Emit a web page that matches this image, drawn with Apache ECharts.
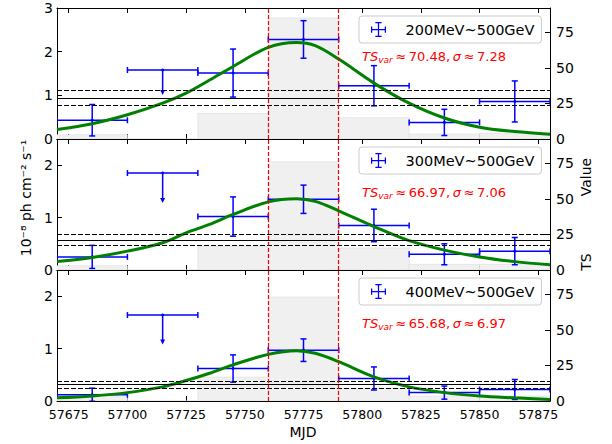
<!DOCTYPE html>
<html>
<head>
<meta charset="utf-8">
<script src="https://cdn.jsdelivr.net/npm/echarts@6/dist/echarts.min.js"></script>
<style>
  html, body { margin: 0; padding: 0; background: #fff; }
  #chart { width: 612px; height: 444px; }
</style>
</head>
<body>
<div id="chart"></div>
<script>
// light curve bins (MJD centre, half width), upper limit flag
const binMjd = [57685, 57715, 57745, 57775, 57805, 57835, 57865];
const binHalf = [15, 15, 15, 15, 15, 15, 15];
const upperLimit = [0, 1, 0, 0, 0, 0, 0];

// flux (1e-8 ph cm-2 s-1) and errors per band
const flux200 = [0.43, 1.58, 1.51, 2.28, 1.22, 0.38, 0.86];
const err200  = [0.36, 0.57, 0.55, 0.43, 0.46, 0.30, 0.47];
const flux300 = [0.25, 1.85, 1.02, 1.35, 0.85, 0.30, 0.36];
const err300  = [0.22, 0.57, 0.375, 0.27, 0.31, 0.20, 0.26];
const flux400 = [0.12, 1.64, 0.62, 0.97, 0.43, 0.16, 0.22];
const err400  = [0.125, 0.56, 0.26, 0.215, 0.22, 0.125, 0.19];

// TS per bin (grey bars, right axis)
const ts200 = [3, 0, 18, 85, 15, 3.5, 4];
const ts300 = [3, 0, 16.6, 76, 15.5, 4, 4];
const ts400 = [3, 0, 16.8, 73, 9, 3.5, 3.5];

// average flux: lower, mean, upper
const avg200 = [0.78, 0.93, 1.11];
const avg300 = [0.48, 0.57, 0.69];
const avg400 = [0.24, 0.32, 0.38];

// fitted curve
const curveMjd = [57670, 57685, 57700, 57715, 57725, 57735, 57745, 57760, 57772, 57780, 57790, 57805, 57820, 57835, 57850, 57865, 57880];
const curve200 = [0.22, 0.35, 0.555, 0.82, 1.05, 1.35, 1.66, 2.10, 2.21, 2.14, 1.83, 1.28, 0.82, 0.48, 0.27, 0.17, 0.11];
const curve300 = [0.16, 0.24, 0.36, 0.52, 0.71, 0.87, 1.06, 1.30, 1.36, 1.31, 1.13, 0.83, 0.56, 0.38, 0.25, 0.16, 0.10];
const curve400 = [0.06, 0.095, 0.16, 0.27, 0.39, 0.53, 0.69, 0.89, 0.96, 0.91, 0.75, 0.46, 0.27, 0.16, 0.095, 0.06, 0.03];

const flareWindow = [57760, 57790];
const bands = ['200MeV~500GeV', '300MeV~500GeV', '400MeV~500GeV'];
const tsVar = ['70.48', '66.97', '65.68'];
const sigma = ['7.28', '7.06', '6.97'];

const xTicks = [57675, 57700, 57725, 57750, 57775, 57800, 57825, 57850, 57875];
const fluxMax = [3, 2.5, 2.5];
const fluxTicks = [[0, 1, 2, 3], [0, 1, 2], [0, 1, 2]];
const tsTicks = [0, 25, 50, 75];
const tsMax = 92;

const fluxes = [flux200, flux300, flux400];
const errs = [err200, err300, err400];
const tss = [ts200, ts300, ts400];
const avgs = [avg200, avg300, avg400];
const curves = [curve200, curve300, curve400];

const FONT = 'DejaVu Sans';
const gridTop = [8, 139, 270];
const textY = [56, 192, 323];
const CAP = 3;
const ICON = 'path://M0,11h24v2h-24z M11,0h2v24h-2z M0,7h2v10h-2z M22,7h2v10h-2z M7,0h10v2h-10z M7,22h10v2h-10z';
const TH = '\u2009'; // thin space, like mathtext

function renderErr(params, api) {
  const x = api.value(0), y = api.value(1), xe = api.value(2), ye = api.value(3), ul = api.value(4);
  const c = api.coord([x, y]);
  const l = api.coord([x - xe, y]);
  const r = api.coord([x + xe, y]);
  const st = { stroke: '#0000ff', lineWidth: 1.5 };
  const kids = [
    { type: 'line', shape: { x1: l[0], y1: c[1], x2: r[0], y2: c[1] }, style: st },
    { type: 'line', shape: { x1: l[0], y1: c[1] - CAP, x2: l[0], y2: c[1] + CAP }, style: st },
    { type: 'line', shape: { x1: r[0], y1: c[1] - CAP, x2: r[0], y2: c[1] + CAP }, style: st }
  ];
  if (ul) {
    const b = api.coord([x, y - ye]);
    kids.push({ type: 'line', shape: { x1: c[0], y1: c[1], x2: c[0], y2: b[1] - 3 }, style: st });
    kids.push({ type: 'polygon', shape: { points: [[c[0] - 2.5, b[1] - 5], [c[0] + 2.5, b[1] - 5], [c[0], b[1]]] },
      style: { fill: '#0000ff' } });
  } else {
    const t = api.coord([x, y + ye]);
    const b = api.coord([x, y - ye]);
    kids.push({ type: 'line', shape: { x1: c[0], y1: t[1], x2: c[0], y2: b[1] }, style: st });
    kids.push({ type: 'line', shape: { x1: c[0] - CAP, y1: t[1], x2: c[0] + CAP, y2: t[1] }, style: st });
    kids.push({ type: 'line', shape: { x1: c[0] - CAP, y1: b[1], x2: c[0] + CAP, y2: b[1] }, style: st });
  }
  kids.push({ type: 'circle', shape: { cx: c[0], cy: c[1], r: 1.5 }, style: { fill: '#0000ff' } });
  return { type: 'group', children: kids };
}

function renderBar(params, api) {
  const x = api.value(0), ts = api.value(1), xe = api.value(2);
  const p0 = api.coord([x - xe, ts]);
  const p1 = api.coord([x + xe, 0]);
  return {
    type: 'rect',
    shape: { x: p0[0], y: p0[1], width: p1[0] - p0[0], height: p1[1] - p0[1] },
    style: { fill: '#f0f0f0', stroke: '#dcdcdc', lineWidth: 0.6 }
  };
}

const grid = [], xAxis = [], yAxis = [], series = [], legend = [], graphic = [];
const tickStyle = { color: '#000', width: 1 };

for (let i = 0; i < 3; i++) {
  grid.push({ left: 57, width: 493, top: gridTop[i], height: 131 });
  ['bottom', 'top'].forEach(pos => {
    xAxis.push({
      type: 'value', gridIndex: i, position: pos, min: 57670, max: 57880,
      axisLine: { onZero: false, lineStyle: tickStyle },
      axisTick: { inside: true, length: 5, customValues: xTicks, lineStyle: tickStyle },
      axisLabel: { show: pos === 'bottom' && i === 2, customValues: xTicks, color: '#000',
        fontFamily: FONT, fontSize: 12.5, margin: 7, formatter: v => String(v) },
      splitLine: { show: false }
    });
  });
  yAxis.push({
    type: 'value', gridIndex: i, position: 'left', min: 0, max: fluxMax[i],
    axisLine: { show: true, onZero: false, lineStyle: tickStyle },
    axisTick: { show: true, inside: true, length: 5, customValues: fluxTicks[i], lineStyle: tickStyle },
    axisLabel: { customValues: fluxTicks[i], color: '#000', fontFamily: FONT, fontSize: 14, margin: 4 },
    splitLine: { show: false }
  });
  yAxis.push({
    type: 'value', gridIndex: i, position: 'right', min: 0, max: tsMax,
    axisLine: { show: true, onZero: false, lineStyle: tickStyle },
    axisTick: { show: true, inside: true, length: 5, customValues: tsTicks, lineStyle: tickStyle },
    axisLabel: { customValues: tsTicks, color: '#000', fontFamily: FONT, fontSize: 14, margin: 6 },
    splitLine: { show: false }
  });

  series.push({
    type: 'custom', name: 'TS' + i, xAxisIndex: i * 2, yAxisIndex: i * 2 + 1, z: 1,
    renderItem: renderBar, silent: true, clip: true,
    data: binMjd.map((m, k) => [m, tss[i][k], binHalf[k]])
  });
  series.push({
    type: 'line', name: 'fit' + i, xAxisIndex: i * 2, yAxisIndex: i * 2, z: 4,
    data: curveMjd.map((m, k) => [m, curves[i][k]]),
    smooth: 0.35, showSymbol: false, silent: true,
    lineStyle: { color: '#008000', width: 3 },
    markLine: {
      silent: true, symbol: ['none', 'none'], label: { show: false }, animation: false,
      data: [
        { yAxis: avgs[i][0], lineStyle: { color: '#000', type: [5, 2], width: 1.2 } },
        { yAxis: avgs[i][1], lineStyle: { color: '#000', type: 'solid', width: 1.2 } },
        { yAxis: avgs[i][2], lineStyle: { color: '#000', type: [5, 2], width: 1.2 } },
        { xAxis: flareWindow[0], lineStyle: { color: '#ff0000', type: [4, 2], width: 1.2 } },
        { xAxis: flareWindow[1], lineStyle: { color: '#ff0000', type: [4, 2], width: 1.2 } }
      ]
    }
  });
  series.push({
    type: 'custom', name: bands[i], xAxisIndex: i * 2, yAxisIndex: i * 2, z: 3,
    renderItem: renderErr, itemStyle: { color: '#0000ff' }, clip: true,
    data: binMjd.map((m, k) => [m, fluxes[i][k], binHalf[k], errs[i][k], upperLimit[k]])
  });

  legend.push({
    data: [{ name: bands[i], icon: ICON }],
    left: 359, top: gridTop[i] + 8, orient: 'vertical',
    itemWidth: 16, itemHeight: 15,
    padding: [6, 7, 6, 12],
    backgroundColor: 'rgba(255,255,255,0.8)', borderColor: '#cccccc', borderWidth: 1, borderRadius: 3,
    selectedMode: false,
    textStyle: { fontFamily: FONT, fontSize: 14.5, color: '#000', padding: [0, 0, 0, 14] }
  });

  graphic.push({
    type: 'text', x: 362, y: textY[i],
    style: {
      text: '{i|TS}{s|var}{n|' + TH + '≈' + TH + tsVar[i] + ',' + TH + '}{i|σ}{n|' + TH + '≈' + TH + sigma[i] + '}',
      fill: '#ff0000', verticalAlign: 'middle',
      rich: {
        i: { fontFamily: FONT, fontSize: 13, fontStyle: 'italic', lineHeight: 17, fill: '#ff0000' },
        s: { fontFamily: FONT, fontSize: 9, fontStyle: 'italic', lineHeight: 17, verticalAlign: 'bottom', fill: '#ff0000' },
        n: { fontFamily: FONT, fontSize: 13, lineHeight: 17, fill: '#ff0000' }
      }
    }
  });
}

graphic.push({
  type: 'text', x: 303, y: 432,
  style: { text: 'MJD', fontFamily: FONT, fontSize: 14, fill: '#000', align: 'center', verticalAlign: 'middle' }
});
graphic.push({
  type: 'text', x: 26, y: 198, rotation: Math.PI / 2,
  style: { text: '10⁻⁸ ph cm⁻² s⁻¹', fontFamily: FONT, fontSize: 14, fill: '#000', align: 'center', verticalAlign: 'middle' }
});
graphic.push({
  type: 'text', x: 586, y: 177, rotation: Math.PI / 2,
  style: { text: 'Value', fontFamily: FONT, fontSize: 14, fill: '#000', align: 'center', verticalAlign: 'middle' }
});
graphic.push({
  type: 'text', x: 586, y: 262, rotation: Math.PI / 2,
  style: { text: 'TS', fontFamily: FONT, fontSize: 14, fill: '#000', align: 'center', verticalAlign: 'middle' }
});

const chart = echarts.init(document.getElementById('chart'), null, { renderer: 'svg' });
chart.setOption({
  animation: false,
  backgroundColor: '#fff',
  textStyle: { fontFamily: FONT },
  grid, xAxis, yAxis, series, legend, graphic
});
</script>
</body>
</html>
